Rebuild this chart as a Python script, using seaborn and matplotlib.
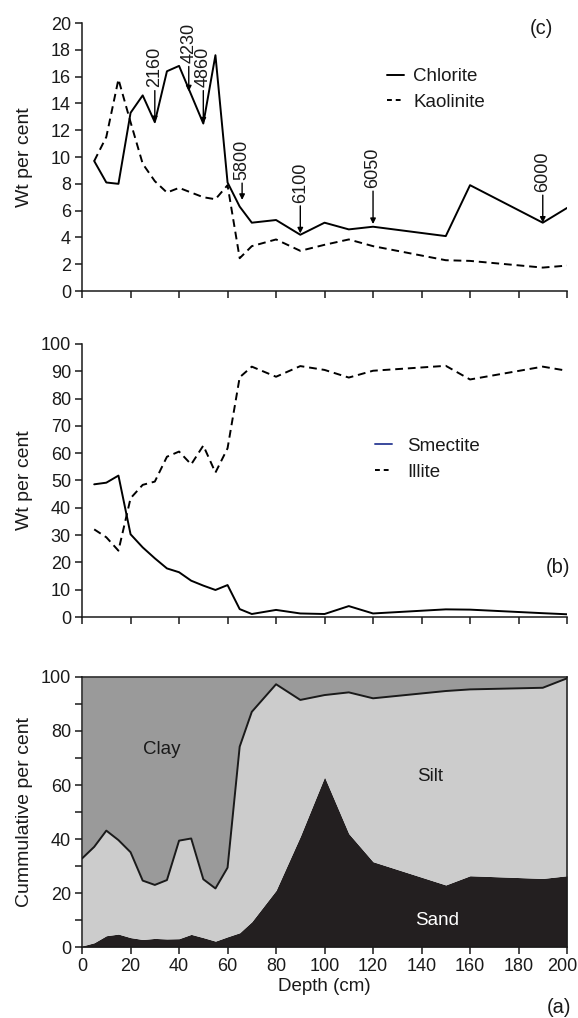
import matplotlib
matplotlib.use("Agg")
import matplotlib.pyplot as plt
import seaborn as sns
from matplotlib.lines import Line2D
from matplotlib.ticker import MultipleLocator
from matplotlib.transforms import ScaledTranslation

# (c) clay minerals: chlorite / kaolinite
depth_c = [5, 10, 15, 20, 25, 30, 35, 40, 50, 55, 60, 65, 70, 80, 90, 100, 110, 120, 150, 160, 190, 200]
chlorite = [9.7, 8.1, 8.0, 13.3, 14.6, 12.6, 16.4, 16.8, 12.5, 17.6, 8.1, 6.3, 5.1, 5.3, 4.2, 5.1, 4.6, 4.8, 4.1, 7.9, 5.1, 6.2]
kaolinite = [9.7, 11.5, 15.8, 12.6, 9.5, 8.2, 7.35, 7.7, 7.0, 6.85, 7.9, 2.45, 3.35, 3.85, 3.0, 3.45, 3.85, 3.35, 2.3, 2.25, 1.75, 1.9]

# dated levels (label, arrow tip x, tip y, text x, text bottom y)
age_labels = ["2160", "4230", "4860", "5800", "6100", "6050", "6000"]
age_tip_x = [30, 44, 50, 66, 90, 120, 190]
age_tip_y = [12.6, 14.9, 12.5, 6.8, 4.3, 5.0, 5.1]
age_text_x = [30, 44, 50, 66, 90, 120, 190]
age_text_y = [15.2, 17.0, 15.2, 8.3, 6.6, 7.7, 7.4]

# (b) smectite / illite
depth_b = [5, 10, 15, 20, 25, 30, 35, 40, 45, 50, 55, 60, 65, 70, 80, 90, 100, 110, 120, 150, 160, 190, 200]
smectite = [48.6, 49.2, 51.8, 30.3, 25.5, 21.5, 17.8, 16.4, 13.3, 11.5, 9.9, 11.7, 2.9, 1.1, 2.6, 1.3, 1.1, 4.0, 1.3, 2.8, 2.7, 1.4, 1.0]
illite = [32.1, 29.2, 24.3, 43.5, 48.4, 49.6, 58.7, 60.6, 55.9, 62.8, 52.9, 61.8, 87.8, 91.7, 88.0, 91.9, 90.5, 87.7, 90.2, 92.0, 87.0, 91.7, 90.2]

# (a) grain size, cumulative
depth_a = [0, 5, 10, 15, 20, 25, 30, 35, 40, 45, 50, 55, 60, 65, 70, 80, 90, 100, 110, 120, 150, 160, 190, 200]
sand = [0.4, 1.6, 4.2, 4.8, 3.5, 2.8, 3.2, 3.0, 3.1, 4.7, 3.5, 2.2, 3.8, 5.3, 9.4, 21, 41, 63, 42, 31.6, 23, 26.4, 25.4, 26.4]
sand_silt = [32.8, 37.1, 43.1, 39.6, 35.1, 24.6, 23.0, 24.8, 39.4, 40.2, 25.1, 21.7, 29.4, 74.2, 87.1, 97.3, 91.5, 93.3, 94.3, 92.1, 94.8, 95.4, 96.0, 99.5]

sns.set_style("ticks", {"axes.edgecolor": "0.1", "xtick.color": "0.1", "ytick.color": "0.1",
                        "text.color": "0.1", "axes.labelcolor": "0.1"})
plt.rcParams["font.family"] = ["Liberation Sans", "DejaVu Sans"]

fig = plt.figure(figsize=(5.78, 10.18), dpi=100)
ax_c = fig.add_axes([0.142, 0.7141, 0.839, 0.2633])
ax_b = fig.add_axes([0.142, 0.3939, 0.839, 0.2682])
ax_a = fig.add_axes([0.142, 0.0697, 0.839, 0.2653])

dash = (0, (4, 2.5))
lw = 1.4

# ---- (c)
sns.lineplot(x=depth_c, y=chlorite, ax=ax_c, color="k", lw=lw, sort=False)
sns.lineplot(x=depth_c, y=kaolinite, ax=ax_c, color="k", lw=lw, linestyle=dash, sort=False)
for lab, tx, ty, x0, y0 in zip(age_labels, age_tip_x, age_tip_y, age_text_x, age_text_y):
    ax_c.annotate(lab, xy=(tx, ty), xytext=(x0, y0), rotation=90, ha="center", va="bottom",
                  fontsize=13,
                  arrowprops=dict(arrowstyle="-|>", color="k", lw=1, shrinkA=0, shrinkB=0,
                                  mutation_scale=8))
ax_c.set_ylim(0, 20)
ax_c.yaxis.set_major_locator(MultipleLocator(2))
h = [Line2D([], [], color="k", lw=lw), Line2D([], [], color="k", lw=lw, linestyle=(0, (2.5, 2)))]
ax_c.legend(h, ["Chlorite", "Kaolinite"], loc="upper left", bbox_to_anchor=(0.629, 0.832),
            frameon=False, fontsize=13.5, handlelength=0.9, handletextpad=0.5, labelspacing=0.45,
            borderpad=0, borderaxespad=0)
ax_c.text(0.948, 0.981, "(c)", transform=ax_c.transAxes, ha="center", va="center", fontsize=14.5)
ax_c.set_ylabel("Wt per cent", fontsize=14)

# ---- (b)
sns.lineplot(x=depth_b, y=smectite, ax=ax_b, color="k", lw=lw, sort=False)
sns.lineplot(x=depth_b, y=illite, ax=ax_b, color="k", lw=lw, linestyle=dash, sort=False)
ax_b.set_ylim(0, 100)
ax_b.yaxis.set_major_locator(MultipleLocator(10))
h = [Line2D([], [], color="#3a4a9c", lw=lw), Line2D([], [], color="k", lw=lw, linestyle=(0, (2.5, 2)))]
ax_b.legend(h, ["Smectite", "Illite"], loc="upper left", bbox_to_anchor=(0.604, 0.656),
            frameon=False, fontsize=13.5, handlelength=0.9, handletextpad=0.8, labelspacing=0.45,
            borderpad=0, borderaxespad=0)
ax_b.text(0.981, 0.183, "(b)", transform=ax_b.transAxes, ha="center", va="center", fontsize=14.5)
ax_b.set_ylabel("Wt per cent", fontsize=14)

# ---- (a)
ax_a.fill_between(depth_a, 0, sand, color="#231f20", lw=0)
ax_a.fill_between(depth_a, sand, sand_silt, color="#cccccc", lw=0)
ax_a.fill_between(depth_a, sand_silt, 100, color="#9a9a9a", lw=0)
sns.lineplot(x=depth_a, y=sand_silt, ax=ax_a, color="0.1", lw=lw, sort=False)
ax_a.set_ylim(0, 100)
ax_a.yaxis.set_major_locator(MultipleLocator(20))
ax_a.yaxis.set_minor_locator(MultipleLocator(10))
ax_a.text(33, 73, "Clay", ha="center", va="center", fontsize=13.5)
ax_a.text(143.5, 63, "Silt", ha="center", va="center", fontsize=13.5)
ax_a.text(146.4, 10, "Sand", ha="center", va="center", fontsize=13.5, color="white")
ax_a.text(0.984, -0.222, "(a)", transform=ax_a.transAxes, ha="center", va="center", fontsize=14.5)
ax_a.set_ylabel("Cummulative per cent", fontsize=14)
ax_a.set_xlabel("Depth (cm)", fontsize=13.5)
ax_a.xaxis.set_label_coords(0.5, -0.115)

for ax in (ax_c, ax_b, ax_a):
    ax.set_xlim(0, 200)
    ax.xaxis.set_major_locator(MultipleLocator(20))
    ax.tick_params(which="both", direction="out", length=5, width=1.1, labelsize=13, pad=3)
    for s in ax.spines.values():
        s.set_linewidth(1.1)
    ax.yaxis.set_label_coords(-0.101, 0.5)
    ax.set_facecolor("none")

for ax in (ax_c, ax_b):
    sns.despine(ax=ax)
    ax.tick_params(axis="x", labelbottom=False)

# nudge the "200" label left so it stays inside the figure, as in the original
fig.canvas.draw()
for t in ax_a.xaxis.get_major_ticks():
    if abs(t.get_loc() - 200) < 1e-6:
        t.label1.set_transform(t.label1.get_transform() + ScaledTranslation(-0.05, 0, fig.dpi_scale_trans))

fig.savefig("out.png", dpi=100)
